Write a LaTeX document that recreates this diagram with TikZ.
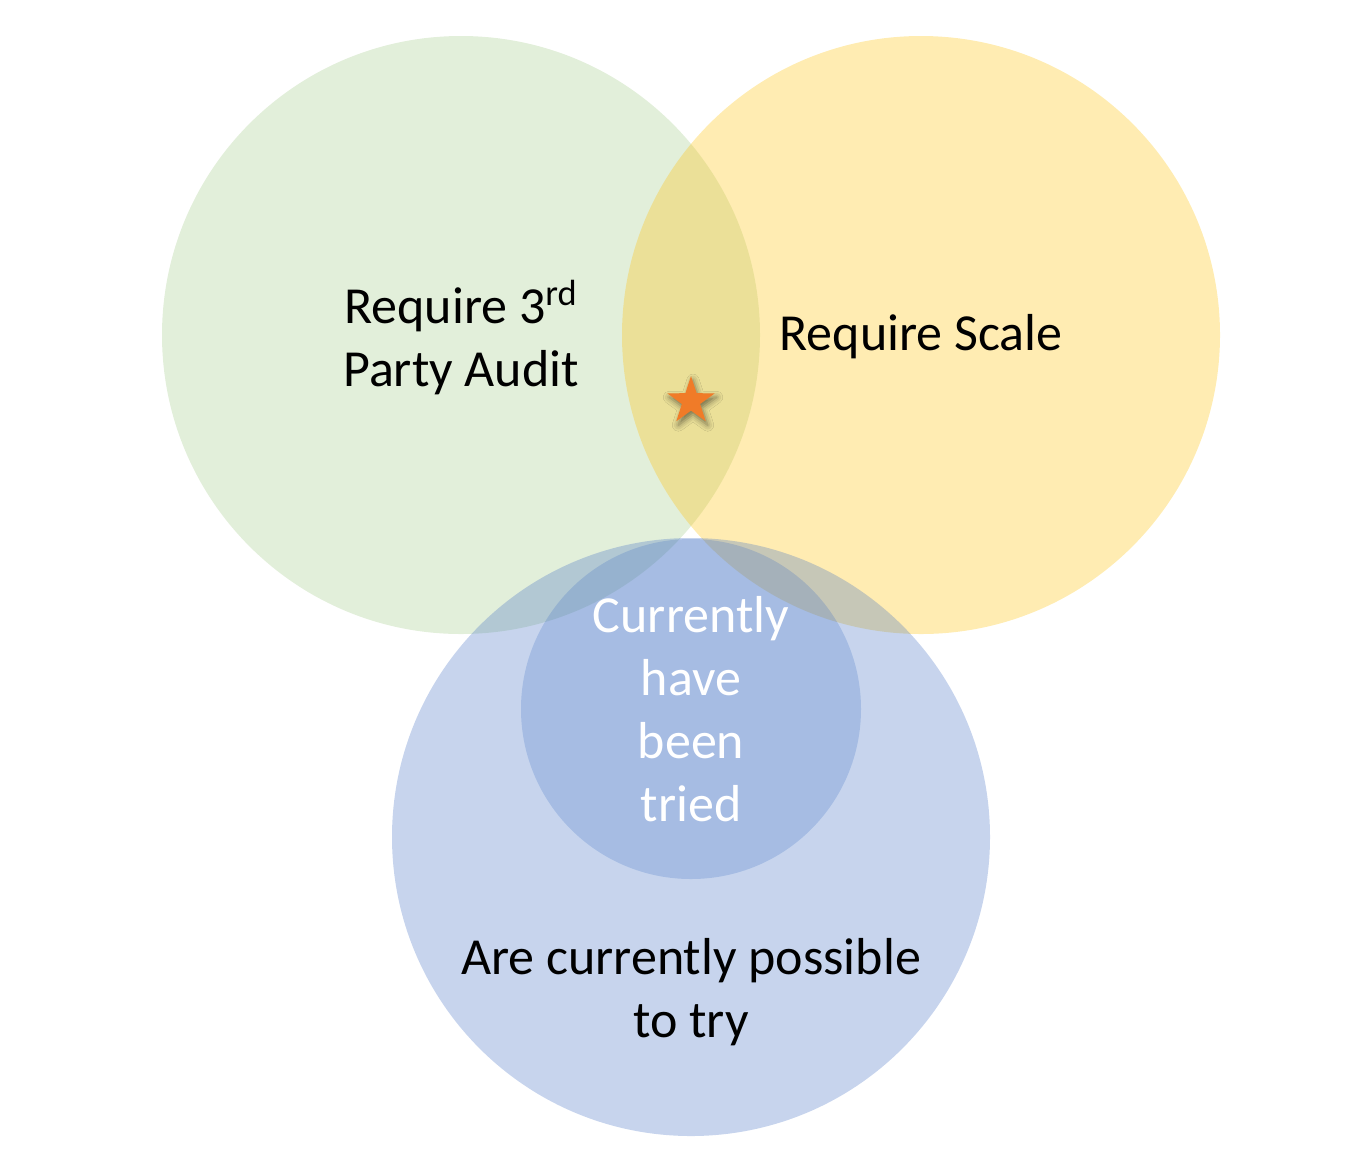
\documentclass[tikz,border=0pt]{standalone}
\usepackage{fontspec}
\setmainfont{Carlito}
\usepackage{xcolor}
\usepackage{tikz}
\usetikzlibrary{positioning, shapes.geometric, shadows.blur}

\definecolor{auditgreen}{HTML}{70AD47}
\definecolor{scaleyellow}{HTML}{FFC000}
\definecolor{tryblue}{HTML}{4472C4}
\definecolor{starorange}{HTML}{F07B28}

\begin{document}
\begin{tikzpicture}[x=0.5pt, y=-0.5pt,
    venn/.style={circle, draw=none, inner sep=0pt, minimum size=299pt},
    label/.style={align=center, font=\fontsize{26}{31.5}\selectfont}]
    \useasboundingbox (0,0) rectangle (1348,1158);

    % the three sets
    \node[venn, fill=auditgreen, fill opacity=0.2] (audit) at (461,335) {};
    \node[venn, fill=scaleyellow, fill opacity=0.3] (scale) at (921,335) {};
    \node[venn, fill=tryblue, fill opacity=0.3] (possible) at (691,837) {};
    \node[circle, draw=none, inner sep=0pt, minimum size=170pt,
          fill=tryblue, fill opacity=0.25] (tried) at (691,709) {};

    % labels
    \node[label] (auditlabel) at (461,338) {Require 3\textsuperscript{rd}\\Party Audit};
    \node[label] (scalelabel) at (921,337) {Require Scale};
    \node[label, text=white] (triedlabel) at (tried) {Currently\\have\\been\\tried};
    \node[label] (possiblelabel) at (691,992) {Are currently possible\\to try};

    % marker
    \node[star, star points=5, star point ratio=2.6, minimum size=25pt, inner sep=0pt,
          fill=starorange, blur shadow={shadow xshift=1pt, shadow yshift=-2pt,
          shadow blur radius=3pt, shadow opacity=50}] (mark) at (691,401) {};
\end{tikzpicture}
\end{document}
